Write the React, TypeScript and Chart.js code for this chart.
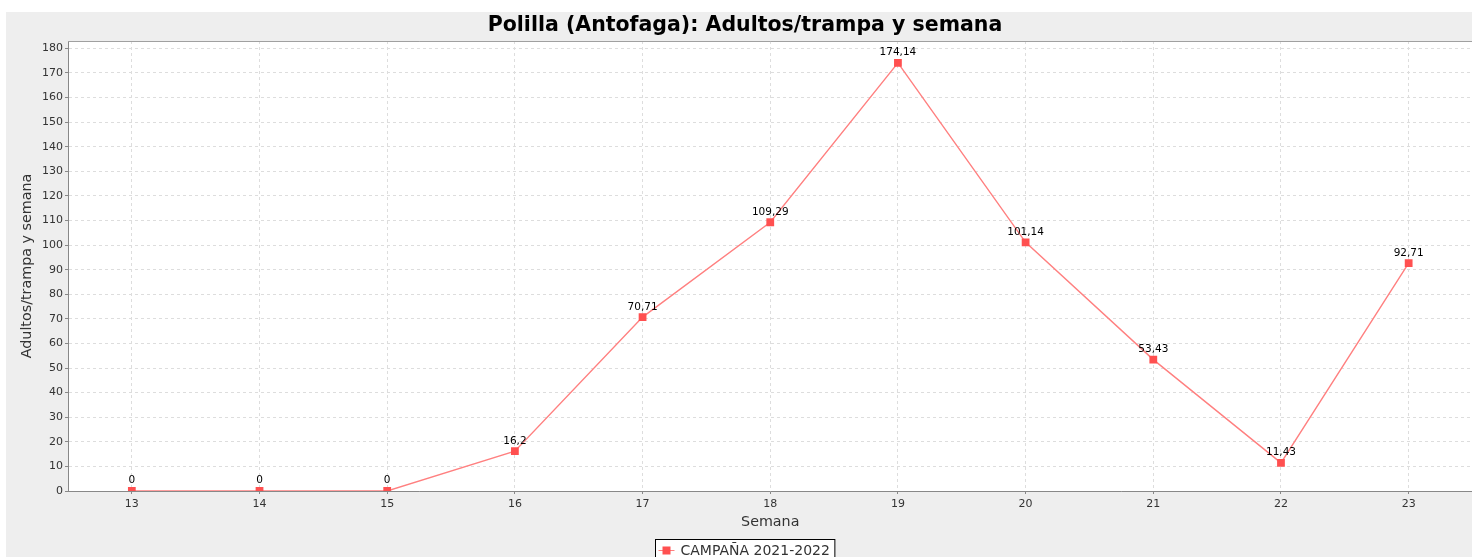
import React, { useEffect, useRef } from "react";
import { Chart, registerables } from "chart.js";

Chart.register(...registerables);

const weeks = ["13", "14", "15", "16", "17", "18", "19", "20", "21", "22", "23"];
const adults = [0, 0, 0, 16.2, 70.71, 109.29, 174.14, 101.14, 53.43, 11.43, 92.71];
const yTickValues = [0, 10, 20, 30, 40, 50, 60, 70, 80, 90, 100, 110, 120, 130, 140, 150, 160, 170, 180];
const seriesName = "CAMPAÑA 2021-2022";
const chartTitle = "Polilla (Antofaga): Adultos/trampa y semana";
const xTitle = "Semana";
const yTitle = "Adultos/trampa y semana";

const FONT = "'DejaVu Sans', sans-serif";
const LINE = "#ff8080";
const MARK = "#ff5050";

const fmt = (v: number) => String(v).replace(".", ",");

const decorPlugin = {
  id: "decor",
  beforeDraw(chart: any) {
    const { ctx, width, height, chartArea } = chart;
    ctx.save();
    ctx.fillStyle = "#eeeeee";
    ctx.fillRect(0, 0, width, height);
    ctx.fillStyle = "#ffffff";
    ctx.fillRect(chartArea.left, chartArea.top, chartArea.right - chartArea.left, chartArea.bottom - chartArea.top);
    ctx.restore();
  },
  afterDraw(chart: any) {
    const { ctx, chartArea, width } = chart;
    ctx.save();
    ctx.strokeStyle = "#a0a0a0";
    ctx.lineWidth = 1;
    ctx.beginPath();
    ctx.moveTo(chartArea.left, chartArea.top + 0.5);
    ctx.lineTo(chartArea.right, chartArea.top + 0.5);
    ctx.stroke();

    const cx = width / 2;
    ctx.fillStyle = "#000000";
    ctx.font = `bold 20.5px ${FONT}`;
    ctx.textAlign = "center";
    ctx.textBaseline = "middle";
    ctx.fillText(chartTitle, cx, 13.5);

    ctx.fillStyle = "#333333";
    ctx.font = `14.3px ${FONT}`;
    ctx.fillText(xTitle, (chartArea.left + chartArea.right) / 2, 510);
    ctx.save();
    ctx.translate(21, (chartArea.top + chartArea.bottom) / 2);
    ctx.rotate(-Math.PI / 2);
    ctx.fillText(yTitle, 0, 0);
    ctx.restore();

    const meta = chart.getDatasetMeta(0);
    ctx.fillStyle = "#000000";
    ctx.font = `10.5px ${FONT}`;
    ctx.textBaseline = "bottom";
    meta.data.forEach((pt: any, i: number) => {
      ctx.fillText(fmt(adults[i]), pt.x, pt.y - 5);
    });

    ctx.font = `14px ${FONT}`;
    const tw = ctx.measureText(seriesName).width;
    const boxW = tw + 30;
    const boxX = Math.round(cx - boxW / 2) + 0.5;
    const boxY = 527.5;
    ctx.fillStyle = "#ffffff";
    ctx.fillRect(boxX, boxY, boxW, 22);
    ctx.strokeStyle = "#000000";
    ctx.lineWidth = 1;
    ctx.strokeRect(boxX, boxY, boxW, 22);
    ctx.strokeStyle = LINE;
    ctx.beginPath();
    ctx.moveTo(boxX + 3, boxY + 11);
    ctx.lineTo(boxX + 19, boxY + 11);
    ctx.stroke();
    ctx.fillStyle = MARK;
    ctx.fillRect(boxX + 7, boxY + 7, 8, 8);
    ctx.fillStyle = "#333333";
    ctx.textAlign = "left";
    ctx.textBaseline = "middle";
    ctx.fillText(seriesName, boxX + 25, boxY + 12);
    ctx.restore();
  },
};

export default function App() {
  const ref = useRef<HTMLCanvasElement | null>(null);
  useEffect(() => {
    if (!ref.current) return;
    const chart = new Chart(ref.current, {
      type: "line",
      data: {
        labels: weeks,
        datasets: [
          {
            label: seriesName,
            data: adults,
            borderColor: LINE,
            backgroundColor: MARK,
            borderWidth: 1.4,
            pointStyle: "rect",
            pointRadius: 5.5,
            pointBorderWidth: 0,
            pointBackgroundColor: MARK,
            tension: 0,
          },
        ],
      },
      options: {
        responsive: false,
        animation: false,
        devicePixelRatio: 1,
        layout: { padding: { top: 29, left: 0, right: 11.5, bottom: 0 } },
        plugins: {
          legend: { display: false },
          title: { display: false },
          tooltip: { enabled: false },
        },
        scales: {
          x: {
            type: "category",
            offset: true,
            afterFit: (s: any) => {
              s.height = 66;
            },
            grid: {
              offset: false,
              color: "#dddddd",
              tickBorderDash: [],
              tickColor: "#888888",
              tickLength: 3,
              drawTicks: true,
            },
            border: { color: "#888888", dash: [3, 3] },
            ticks: {
              color: "#333333",
              font: { family: FONT, size: 11 },
              padding: 4,
              maxRotation: 0,
            },
          },
          y: {
            min: 0,
            max: 183,
            afterFit: (s: any) => {
              s.width = 62;
            },
            afterBuildTicks: (s: any) => {
              s.ticks = yTickValues.map((v) => ({ value: v }));
            },
            grid: {
              color: "#dddddd",
              tickBorderDash: [],
              tickColor: "#888888",
              tickLength: 3,
            },
            border: { color: "#888888", dash: [3, 3] },
            ticks: {
              stepSize: 10,
              color: "#333333",
              font: { family: FONT, size: 11 },
              padding: 2,
            },
          },
        },
      },
      plugins: [decorPlugin],
    } as any);
    return () => chart.destroy();
  }, []);
  return (
    <div style={{ position: "fixed", left: 0, top: 0, width: "100vw", height: "100vh", overflow: "hidden", background: "#ffffff" }}>
      <canvas
        ref={ref}
        width={1478}
        height={545}
        style={{ position: "absolute", left: 6, top: 12, width: 1478, height: 545 }}
      />
    </div>
  );
}
